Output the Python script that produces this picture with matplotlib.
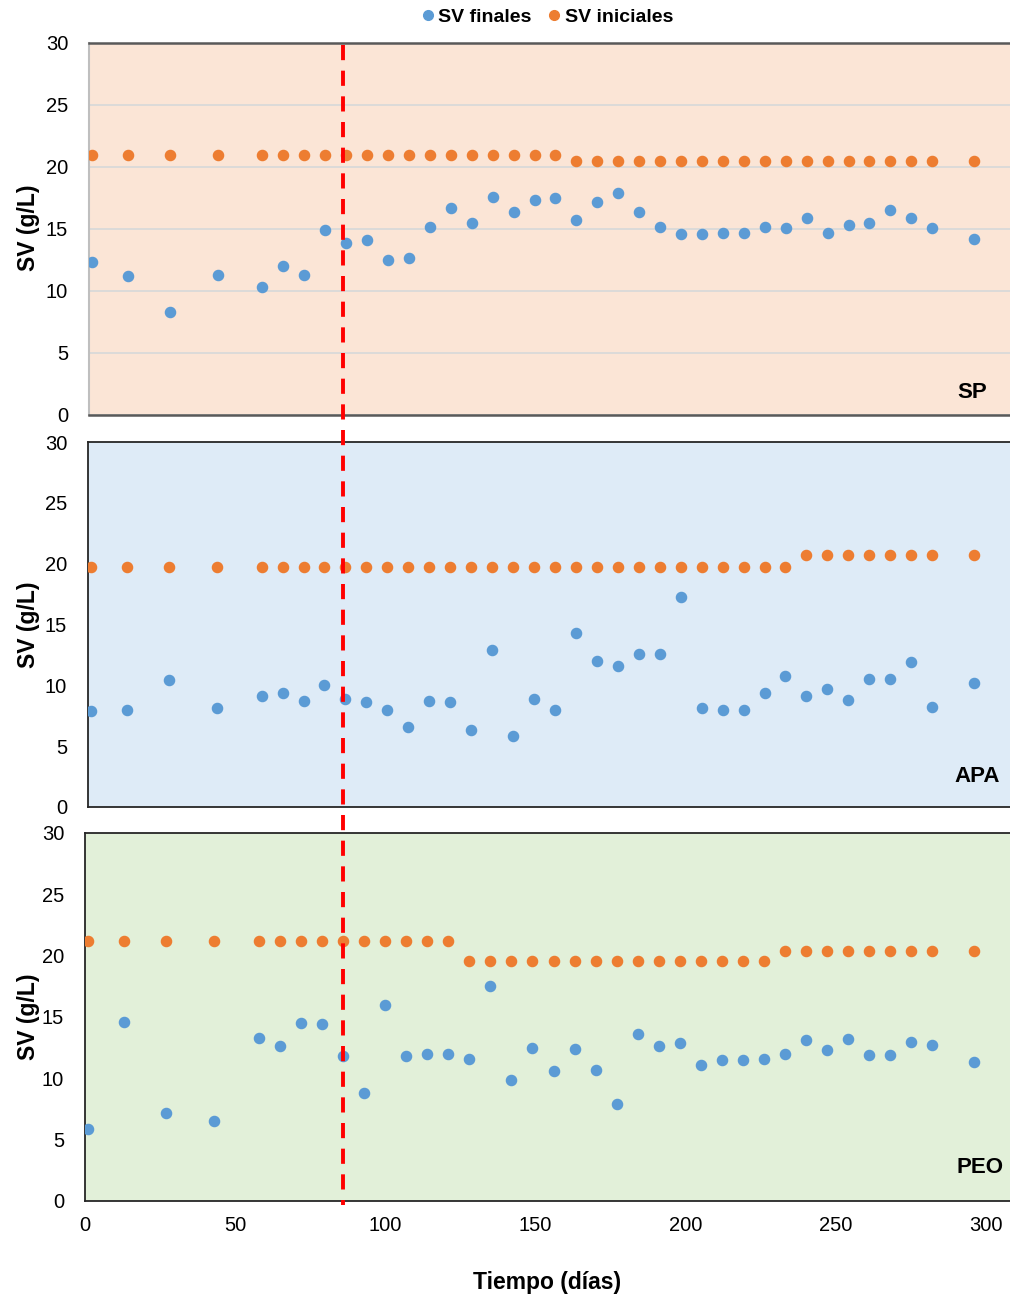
import matplotlib
matplotlib.use('Agg')
import matplotlib.pyplot as plt
from matplotlib.lines import Line2D

plt.rcParams['font.family'] = ['Liberation Sans', 'DejaVu Sans']

# dias de muestreo (comunes a los tres reactores)
dias = [1, 13, 27, 43, 58, 65, 72, 79, 86, 93, 100, 107, 114, 121, 128, 135,
        142, 149, 156, 163, 170, 177, 184, 191, 198, 205, 212, 219, 226, 233,
        240, 247, 254, 261, 268, 275, 282, 296]

# SV finales e iniciales (g/L)
sp_finales = [12.3, 11.2, 8.3, 11.3, 10.3, 12.0, 11.3, 14.9, 13.9, 14.1,
              12.5, 12.7, 15.2, 16.7, 15.5, 17.6, 16.4, 17.3, 17.5, 15.7,
              17.2, 17.9, 16.4, 15.2, 14.6, 14.6, 14.7, 14.7, 15.2, 15.1,
              15.9, 14.7, 15.3, 15.5, 16.5, 15.9, 15.1, 14.2]
sp_iniciales = [21.0, 21.0, 21.0, 21.0, 21.0, 21.0, 21.0, 21.0, 21.0, 21.0,
                21.0, 21.0, 21.0, 21.0, 21.0, 21.0, 21.0, 21.0, 21.0, 20.5,
                20.5, 20.5, 20.5, 20.5, 20.5, 20.5, 20.5, 20.5, 20.5, 20.5,
                20.5, 20.5, 20.5, 20.5, 20.5, 20.5, 20.5, 20.5]

apa_finales = [7.9, 8.0, 10.4, 8.1, 9.1, 9.4, 8.7, 10.0, 8.9, 8.6,
               8.0, 6.6, 8.7, 8.6, 6.3, 12.9, 5.8, 8.9, 8.0, 14.3,
               12.0, 11.6, 12.6, 12.6, 17.3, 8.1, 8.0, 8.0, 9.4, 10.8,
               9.1, 9.7, 8.8, 10.5, 10.5, 11.9, 8.2, 10.2]
apa_iniciales = [19.7, 19.7, 19.7, 19.7, 19.7, 19.7, 19.7, 19.7, 19.7, 19.7,
                 19.7, 19.7, 19.7, 19.7, 19.7, 19.7, 19.7, 19.7, 19.7, 19.7,
                 19.7, 19.7, 19.7, 19.7, 19.7, 19.7, 19.7, 19.7, 19.7, 19.7,
                 20.7, 20.7, 20.7, 20.7, 20.7, 20.7, 20.7, 20.7]

peo_finales = [5.9, 14.6, 7.2, 6.5, 13.3, 12.6, 14.5, 14.4, 11.8, 8.8,
               16.0, 11.8, 12.0, 12.0, 11.6, 17.5, 9.9, 12.5, 10.6, 12.4,
               10.7, 7.9, 13.6, 12.6, 12.9, 11.1, 11.5, 11.5, 11.6, 12.0,
               13.1, 12.3, 13.2, 11.9, 11.9, 13.0, 12.7, 11.3]
peo_iniciales = [21.2, 21.2, 21.2, 21.2, 21.2, 21.2, 21.2, 21.2, 21.2, 21.2,
                 21.2, 21.2, 21.2, 21.2, 19.6, 19.6, 19.6, 19.6, 19.6, 19.6,
                 19.6, 19.6, 19.6, 19.6, 19.6, 19.6, 19.6, 19.6, 19.6, 20.4,
                 20.4, 20.4, 20.4, 20.4, 20.4, 20.4, 20.4, 20.4]

# dia del cambio de operacion (linea roja discontinua)
dia_cambio = 86

AZUL = '#5B9BD5'
NARANJA = '#ED7D31'

W, H = 1010, 1297
fig = plt.figure(figsize=(W / 100, H / 100), dpi=100)


def caja(izq, arriba, abajo):
    # rectangulo del panel en pixeles -> fraccion de figura
    return [izq / W, 1 - abajo / H, (W - izq) / W, (abajo - arriba) / H]


paneles = [
    ('SP', sp_finales, sp_iniciales, '#FBE5D6', caja(89, 43, 415), (987, 398), 228),
    ('APA', apa_finales, apa_iniciales, '#DEEBF7', caja(88, 442, 807), (1000, 782), 625),
    ('PEO', peo_finales, peo_iniciales, '#E2F0D9', caja(85, 833, 1201), (1004, 1173), 1017),
]

ejes = []
for i, (nombre, fin, ini, fondo, rect, pos_txt, y_lab) in enumerate(paneles):
    ax = fig.add_axes(rect)
    ax.set_facecolor(fondo)
    ax.plot(dias, fin, 'o', color=AZUL, ms=7.3, zorder=3)
    ax.plot(dias, ini, 'o', color=NARANJA, ms=7.3, zorder=3)
    ax.set_xlim(0, 308)
    ax.set_ylim(0, 30)
    ax.set_yticks(range(0, 31, 5))
    ax.tick_params(length=0, labelsize=14.5, pad=15)
    if i < 2:
        ax.set_xticks([])
    else:
        ax.set_xticks(range(0, 301, 50))
        ax.tick_params(axis='x', pad=11)
    ax.spines['right'].set_visible(False)
    if i == 0:
        ax.yaxis.grid(True, color='#D9D9D9', lw=1.3)
        ax.set_axisbelow(True)
        for s in ('top', 'bottom'):
            ax.spines[s].set_color('#595959')
            ax.spines[s].set_linewidth(1.8)
        ax.spines['left'].set_color('#BFBFBF')
        ax.spines['left'].set_linewidth(1.5)
    else:
        for s in ('top', 'bottom', 'left'):
            ax.spines[s].set_color('#262626')
            ax.spines[s].set_linewidth(1.3)
    fig.text(pos_txt[0] / W, 1 - pos_txt[1] / H, nombre, ha='right', va='baseline',
             fontsize=16, fontweight='bold')
    fig.text(28 / W, 1 - y_lab / H, 'SV (g/L)', rotation=90, ha='center', va='center',
             fontsize=16.5, fontweight='bold')
    ejes.append(ax)

fig.text(547 / W, 1 - 1283 / H, 'Tiempo (días)', ha='center', va='center',
         fontsize=16.5, fontweight='bold')

# linea roja que cruza los tres paneles
x_px = ejes[2].transData.transform((dia_cambio, 0))[0]
x_fig = x_px / fig.bbox.width
fig.add_artist(Line2D([x_fig, x_fig], [1 - 45 / H, 1 - 1205 / H], color='#FF0000',
                      lw=2.8, linestyle=(0, (3.9, 2.7)), zorder=5))

manejadores = [Line2D([], [], marker='o', ls='none', color=AZUL, ms=7),
               Line2D([], [], marker='o', ls='none', color=NARANJA, ms=7)]
fig.legend(manejadores, ['SV finales', 'SV iniciales'], loc='center',
           bbox_to_anchor=(548 / W, 1 - 17 / H), ncol=2, frameon=False,
           prop=dict(weight='bold', size=14), handlelength=0.5, handletextpad=0.3,
           columnspacing=0.9, borderpad=0)

fig.savefig('out.png', dpi=100)
